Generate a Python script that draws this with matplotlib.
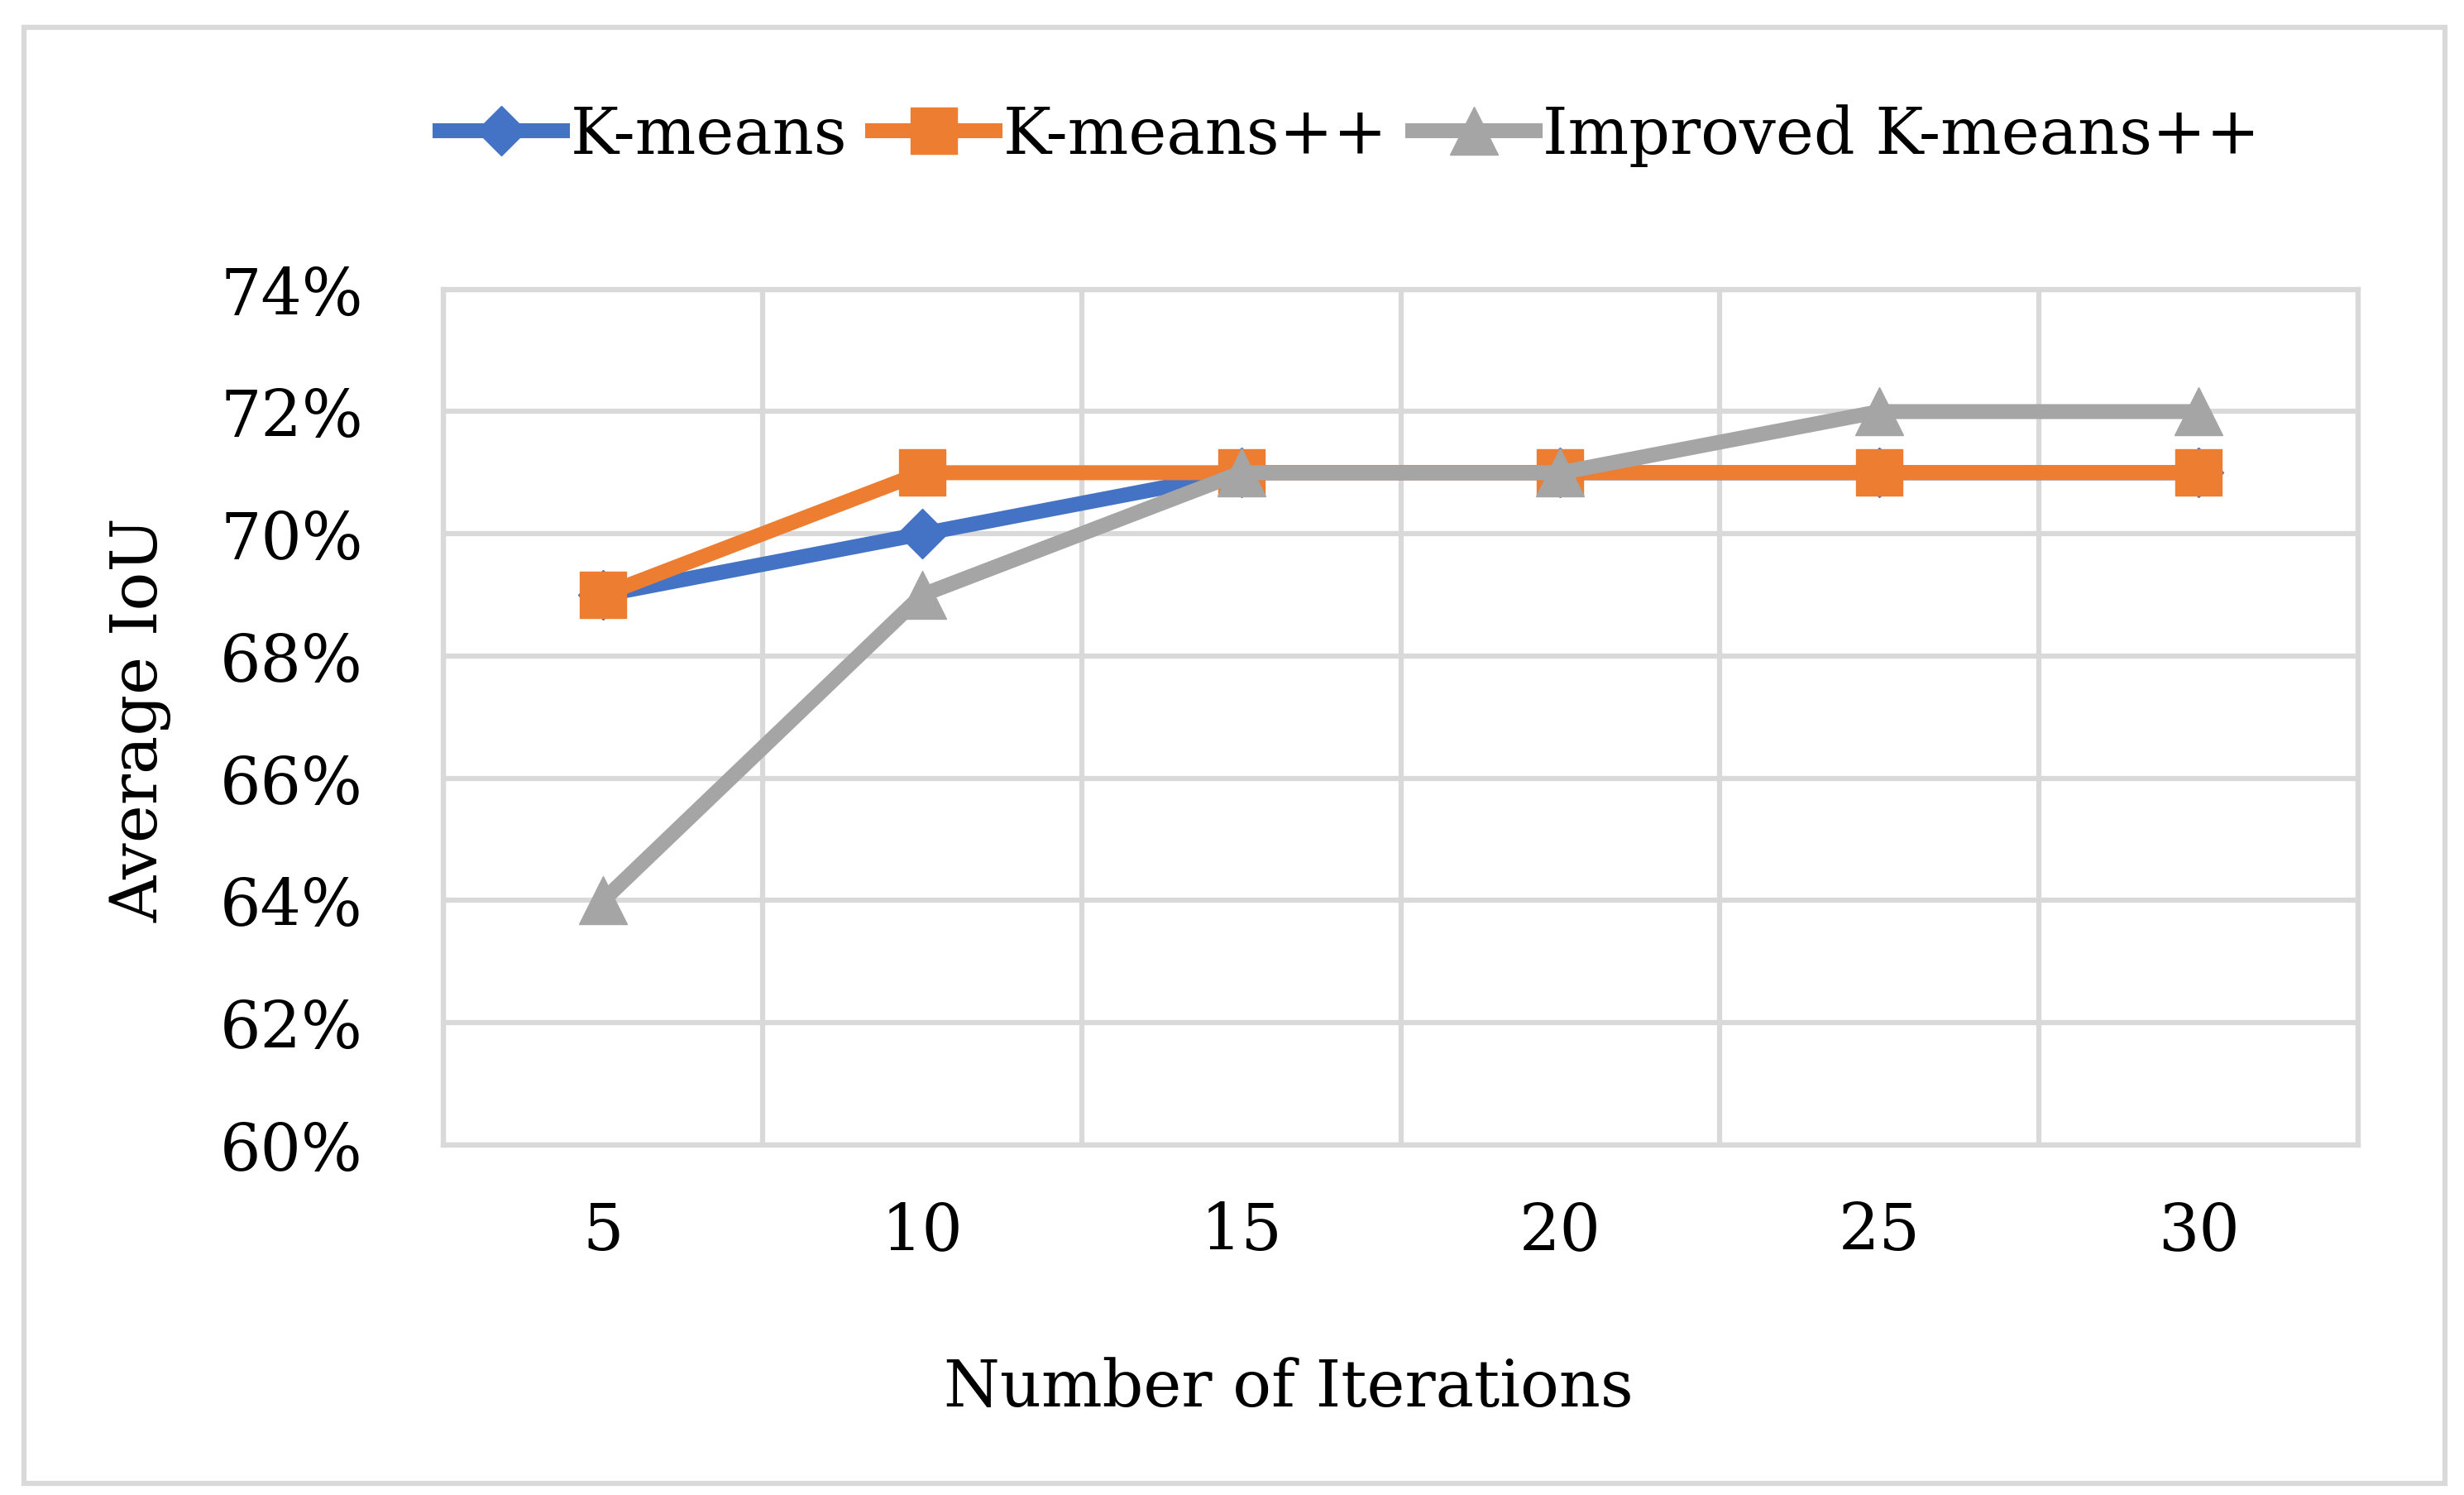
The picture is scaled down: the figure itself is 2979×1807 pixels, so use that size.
import matplotlib
matplotlib.use('Agg')
import matplotlib.pyplot as plt
from matplotlib.patches import Rectangle
from matplotlib.ticker import FuncFormatter, FixedLocator

plt.rcParams['font.family'] = ['DejaVu Serif']

iterations = ['5', '10', '15', '20', '25', '30']
kmeans = [69, 70, 71, 71, 71, 71]
kmeans_pp = [69, 71, 71, 71, 71, 71]
improved = [64, 69, 71, 71, 72, 72]

grid_c = '#D9D9D9'
fs = 56

fig = plt.figure(figsize=(29.79, 18.08), dpi=100)
ax = fig.add_axes([0.180, 0.234, 0.777, 0.572])

x = list(range(len(iterations)))
ax.plot(x, kmeans, color='#4472C4', lw=13, marker='D', ms=31, label='K-means', zorder=3)
ax.plot(x, kmeans_pp, color='#ED7D31', lw=13, marker='s', ms=40, label='K-means++', zorder=4)
ax.plot(x, improved, color='#A5A5A5', lw=13, marker='^', ms=42, label='Improved K-means++', zorder=5)

ax.set_xlim(-0.5, len(iterations) - 0.5)
ax.set_ylim(60, 74)
ax.set_yticks(range(60, 75, 2))
ax.yaxis.set_major_formatter(FuncFormatter(lambda v, p: f'{v:.0f}%'))
ax.set_xticks(x)
ax.set_xticklabels(iterations)
ax.xaxis.set_minor_locator(FixedLocator([i - 0.5 for i in range(len(iterations) + 1)]))

ax.grid(True, which='major', axis='y', color=grid_c, lw=4.5, zorder=0)
ax.grid(True, which='minor', axis='x', color=grid_c, lw=4.5, zorder=0)
ax.tick_params(axis='both', which='both', length=0, labelsize=fs)
ax.tick_params(axis='y', pad=70)
ax.tick_params(axis='x', pad=48)
for s in ax.spines.values():
    s.set_color(grid_c)
    s.set_linewidth(4.5)
ax.set_axisbelow(True)

fig.text(0.057, 0.519, 'Average IoU', rotation=90, ha='center', va='center', fontsize=fs)
fig.text(0.523, 0.072, 'Number of Iterations', ha='center', va='center', fontsize=fs)

fig.legend(loc='center', bbox_to_anchor=(0.548, 0.909), ncol=3, frameon=False,
           fontsize=fs, handlelength=1.9, handletextpad=0.12, columnspacing=0.4,
           borderaxespad=0)

fig.add_artist(Rectangle((0.0097, 0.0077), 0.9826, 0.9735, transform=fig.transFigure,
                         fill=False, edgecolor=grid_c, lw=4.5))

fig.savefig('out.png', dpi=100, facecolor='white')
